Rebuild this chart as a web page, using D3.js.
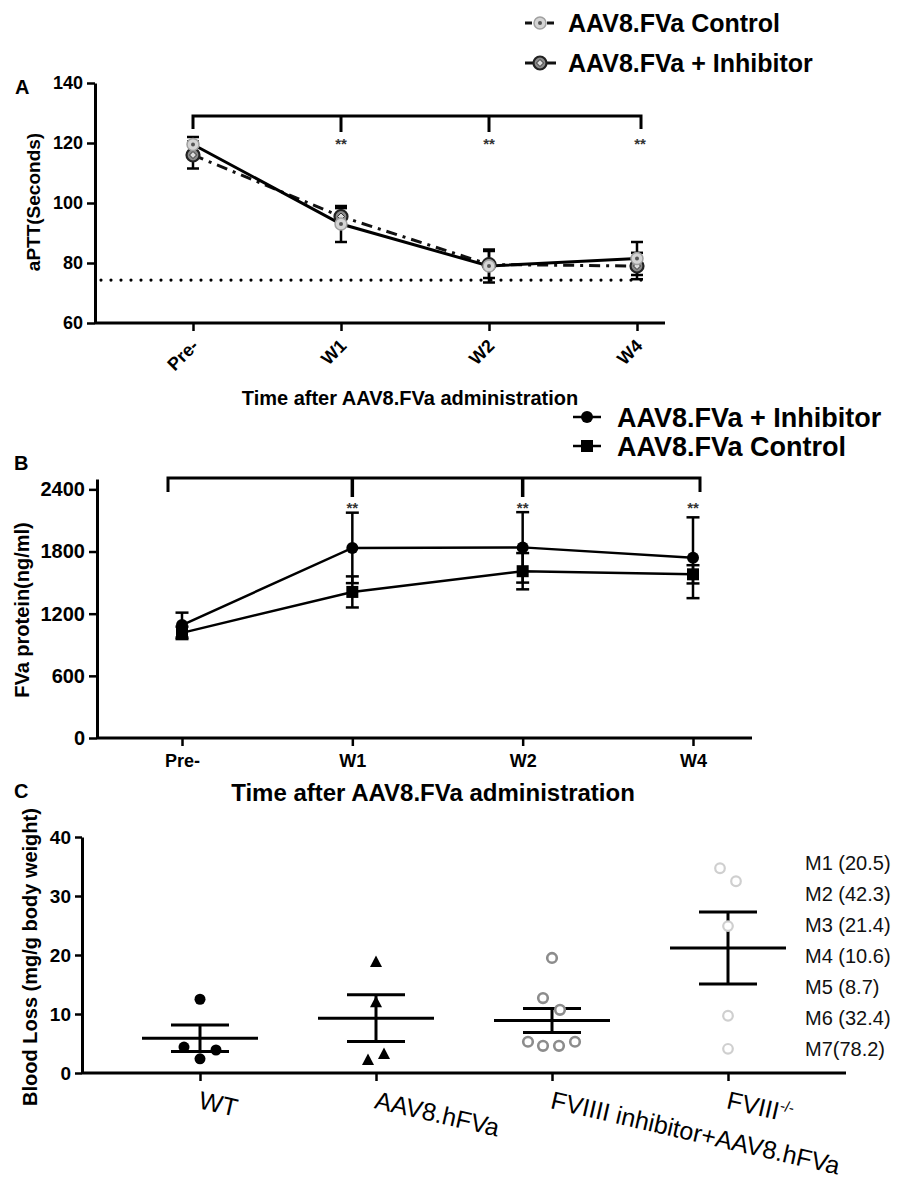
<!DOCTYPE html>
<html><head><meta charset="utf-8">
<script src="https://cdn.jsdelivr.net/npm/d3@7"></script>
<style>body{margin:0;background:#fff}</style>
</head><body><svg id="c" width="900" height="1178"></svg>
<script>
// ---------------- DATA ----------------
const timepoints = ["Pre-", "W1", "W2", "W4"];
const apttTicks = [60, 80, 100, 120, 140];
const apttControl = [119.5, 93, 79, 81.5];
const apttControlErr = [2.5, 6, 5.5, 5.5];
const apttInhibitor = [116, 95.5, 79.5, 79];
const apttInhibitorErr = [4.5, 2.8, 4.5, 4.4];
const apttNormal = 74.3;
const apttSig = ["", "**", "**", "**"];

const fvaTicks = [0, 600, 1200, 1800, 2400];
const fvaInhibitor = [1090, 1835, 1840, 1740];
const fvaInhibitorErr = [120, 340, 340, 390];
const fvaControl = [1015, 1410, 1610, 1580];
const fvaControlErr = [60, 150, 175, 88];
const fvaSig = ["", "**", "**", "**"];

const groups = ["WT", "AAV8.hFVa", "FVIIII inhibitor+AAV8.hFVa", "FVIII-/-"];
const bloodTicks = [0, 10, 20, 30, 40];
const bloodWT = [12.5, 4.4, 3.9, 2.4];
const bloodAAV = [18.8, 12.0, 2.2, 3.2];
const bloodInhib = [19.5, 12.7, 10.7, 5.3, 4.6, 4.6, 5.3];
const bloodFVIII = [34.7, 32.5, 24.9, 9.7, 4.1];
const bloodMean = [5.9, 9.3, 8.9, 21.2];
const bloodSEM = [2.25, 3.95, 2.05, 6.1];
const mouseLabels = ["M1 (20.5)", "M2 (42.3)", "M3 (21.4)", "M4 (10.6)", "M5 (8.7)", "M6 (32.4)", "M7(78.2)"];

// ---------------- LAYOUT ----------------
const F = '"Liberation Sans", Arial, Helvetica, sans-serif';
const jitter = [[0, -16, 16, 0], [0, 0, -8, 8], [0, -9, 8, -24, -9, 7, 23], [-8, 8, 0, 0, 0]];
const svg = d3.select("#c");
svg.append("rect").attr("width", 900).attr("height", 1178).attr("fill", "#fff");

function styleAxis(g, fs, bold = true) {
  g.selectAll(".domain").attr("stroke", "#000").attr("stroke-width", 3);
  g.selectAll(".tick line").attr("stroke", "#000").attr("stroke-width", 2.5);
  g.selectAll(".tick text").attr("fill", "#000").attr("font-size", fs)
    .attr("font-weight", bold ? "bold" : "normal").attr("font-family", F);
}
function txt(x, y, s, fs, opts = {}) {
  const t = svg.append("text").attr("x", x).attr("y", y).text(s)
    .attr("font-family", F).attr("font-size", fs)
    .attr("font-weight", opts.weight || "bold").attr("fill", opts.fill || "#000")
    .attr("text-anchor", opts.anchor || "start");
  if (opts.transform) t.attr("transform", opts.transform);
  return t;
}
function errBar(g, x, y0, y1, cap, sw) {
  g.append("line").attr("x1", x).attr("x2", x).attr("y1", y0).attr("y2", y1).attr("stroke", "#000").attr("stroke-width", sw);
  [y0, y1].forEach(y => g.append("line").attr("x1", x - cap).attr("x2", x + cap).attr("y1", y).attr("y2", y).attr("stroke", "#000").attr("stroke-width", sw));
}

// ================= PANEL A =================
const xA = d3.scalePoint().domain(timepoints).range([193, 637]);
const yA = d3.scaleLinear().domain([60, 140]).range([323, 83]);
txt(15, 94, "A", 20);
const gAy = svg.append("g").attr("transform", "translate(95,0)")
  .call(d3.axisLeft(yA).tickValues(apttTicks).tickSize(8).tickSizeOuter(0).tickPadding(4));
styleAxis(gAy, 18);
svg.append("line").attr("x1", 95).attr("x2", 665).attr("y1", yA(60)).attr("y2", yA(60)).attr("stroke", "#000").attr("stroke-width", 3);
const gAx = svg.append("g").attr("transform", `translate(0,${yA(60)})`)
  .call(d3.axisBottom(xA).tickSize(8).tickSizeOuter(0));
gAx.select(".domain").remove();
styleAxis(gAx, 18);
gAx.selectAll(".tick text").attr("text-anchor", "end").attr("x", 0).attr("y", 0).attr("dy", 0)
  .attr("transform", "translate(6,24) rotate(-45)");
txt(33, 202, "aPTT(Seconds)", 19, { anchor: "middle", transform: "rotate(-90,33,202)" }).attr("dy", "0.35em");
txt(410, 405, "Time after AAV8.FVa administration", 20, { anchor: "middle" });

// dotted normal line
svg.append("line").attr("x1", 101).attr("x2", 648).attr("y1", yA(apttNormal)).attr("y2", yA(apttNormal))
  .attr("stroke", "#000").attr("stroke-width", 3.2).attr("stroke-linecap", "round").attr("stroke-dasharray", "0,10");

// bracket
const brA = svg.append("g");
brA.append("path").attr("d", `M${xA("Pre-")},129V116H${xA("W4") + 4}V129`).attr("fill", "none").attr("stroke", "#000").attr("stroke-width", 3);
["W1", "W2"].forEach(t => brA.append("line").attr("x1", xA(t)).attr("x2", xA(t)).attr("y1", 116).attr("y2", 132).attr("stroke", "#000").attr("stroke-width", 3));
timepoints.forEach((t, i) => { if (apttSig[i]) txt(xA(t) + (i === 3 ? 3 : 0), 149, apttSig[i], 15, { anchor: "middle", fill: "#333" }); });

// error bars
const gA = svg.append("g");
timepoints.forEach((t, i) => {
  errBar(gA, xA(t), yA(apttControl[i] + apttControlErr[i]), yA(apttControl[i] - apttControlErr[i]), 6, 2.5);
  errBar(gA, xA(t), yA(apttInhibitor[i] + apttInhibitorErr[i]), yA(apttInhibitor[i] - apttInhibitorErr[i]), 6, 2.5);
});
const lineA = d3.line().x((d, i) => xA(timepoints[i])).y(d => yA(d));
gA.append("path").datum(apttInhibitor).attr("d", lineA).attr("fill", "none").attr("stroke", "#111").attr("stroke-width", 3).attr("stroke-dasharray", "11,6,3,6");
gA.append("path").datum(apttControl).attr("d", lineA).attr("fill", "none").attr("stroke", "#000").attr("stroke-width", 3);

function markInhib(g, x, y) {
  g.append("circle").attr("cx", x).attr("cy", y).attr("r", 6.5).attr("fill", "#8a8a8a").attr("stroke", "#222").attr("stroke-width", 2.2);
  g.append("path").attr("d", `M${x},${y - 3.5}L${x + 3.5},${y}L${x},${y + 3.5}L${x - 3.5},${y}Z`).attr("fill", "#ddd").attr("stroke", "#333").attr("stroke-width", 1);
}
function markCtrl(g, x, y) {
  g.append("circle").attr("cx", x).attr("cy", y).attr("r", 6).attr("fill", "#d4d4d4").attr("stroke", "#a0a0a0").attr("stroke-width", 1.5);
  g.append("circle").attr("cx", x).attr("cy", y).attr("r", 2).attr("fill", "#555");
}
timepoints.forEach((t, i) => { markInhib(gA, xA(t), yA(apttInhibitor[i])); markCtrl(gA, xA(t), yA(apttControl[i])); });

// legend A
const lgA = svg.append("g");
lgA.append("line").attr("x1", 525).attr("x2", 556).attr("y1", 23).attr("y2", 23).attr("stroke", "#111").attr("stroke-width", 3).attr("stroke-dasharray", "7,4");
markCtrl(lgA, 540, 23);
txt(568, 32, "AAV8.FVa Control", 25);
lgA.append("line").attr("x1", 525).attr("x2", 556).attr("y1", 63).attr("y2", 63).attr("stroke", "#111").attr("stroke-width", 3);
markInhib(lgA, 540, 63);
txt(568, 72, "AAV8.FVa + Inhibitor", 25);

// ================= PANEL B =================
const xB = d3.scalePoint().domain(timepoints).range([182, 693]);
const yB = d3.scaleLinear().domain([0, 2500]).range([738, 479]);
txt(14, 470, "B", 20);
const gBy = svg.append("g").attr("transform", "translate(97,0)")
  .call(d3.axisLeft(yB).tickValues(fvaTicks).tickFormat(d3.format("d")).tickSize(8).tickSizeOuter(0).tickPadding(4));
styleAxis(gBy, 20);
svg.append("line").attr("x1", 97).attr("x2", 752).attr("y1", yB(0)).attr("y2", yB(0)).attr("stroke", "#000").attr("stroke-width", 3);
const gBx = svg.append("g").attr("transform", `translate(0,${yB(0)})`)
  .call(d3.axisBottom(xB).tickSize(8).tickSizeOuter(0).tickPadding(8));
gBx.select(".domain").remove();
styleAxis(gBx, 18);
txt(22, 610, "FVa protein(ng/ml)", 20, { anchor: "middle", transform: "rotate(-90,22,610)" }).attr("dy", "0.35em");
txt(433, 801, "Time after AAV8.FVa administration", 24, { anchor: "middle" });

const brB = svg.append("g");
brB.append("path").attr("d", `M${xB("Pre-") - 14},492V478H${xB("W4") + 7}V492`).attr("fill", "none").attr("stroke", "#000").attr("stroke-width", 3);
["W1", "W2"].forEach(t => brB.append("line").attr("x1", xB(t)).attr("x2", xB(t)).attr("y1", 478).attr("y2", 497).attr("stroke", "#000").attr("stroke-width", 3.5));
timepoints.forEach((t, i) => { if (fvaSig[i]) txt(xB(t), 513, fvaSig[i], 15, { anchor: "middle", fill: "#333" }); });

const gB = svg.append("g");
timepoints.forEach((t, i) => {
  errBar(gB, xB(t), yB(fvaInhibitor[i] + fvaInhibitorErr[i]), yB(fvaInhibitor[i] - fvaInhibitorErr[i]), 6.5, 2.5);
  errBar(gB, xB(t), yB(fvaControl[i] + fvaControlErr[i]), yB(fvaControl[i] - fvaControlErr[i]), 6.5, 2.5);
});
const lineB = d3.line().x((d, i) => xB(timepoints[i])).y(d => yB(d));
gB.append("path").datum(fvaInhibitor).attr("d", lineB).attr("fill", "none").attr("stroke", "#000").attr("stroke-width", 2.5);
gB.append("path").datum(fvaControl).attr("d", lineB).attr("fill", "none").attr("stroke", "#000").attr("stroke-width", 2.5);
timepoints.forEach((t, i) => {
  gB.append("circle").attr("cx", xB(t)).attr("cy", yB(fvaInhibitor[i])).attr("r", 6).attr("fill", "#000");
  gB.append("rect").attr("x", xB(t) - 6).attr("y", yB(fvaControl[i]) - 6).attr("width", 12).attr("height", 12).attr("fill", "#000");
});

const lgB = svg.append("g");
lgB.append("line").attr("x1", 573).attr("x2", 601).attr("y1", 417).attr("y2", 417).attr("stroke", "#000").attr("stroke-width", 2.5);
lgB.append("circle").attr("cx", 587).attr("cy", 417).attr("r", 6).attr("fill", "#000");
txt(617, 427, "AAV8.FVa + Inhibitor", 27);
lgB.append("line").attr("x1", 573).attr("x2", 601).attr("y1", 446).attr("y2", 446).attr("stroke", "#000").attr("stroke-width", 2.5);
lgB.append("rect").attr("x", 581).attr("y", 440).attr("width", 12).attr("height", 12).attr("fill", "#000");
txt(617, 456, "AAV8.FVa Control", 27);

// ================= PANEL C =================
const xC = d3.scalePoint().domain(groups).range([200, 728]);
const yC = d3.scaleLinear().domain([0, 40]).range([1073, 837]);
txt(14, 798, "C", 20);
const gCy = svg.append("g").attr("transform", "translate(82,0)")
  .call(d3.axisLeft(yC).tickValues(bloodTicks).tickSize(7).tickSizeOuter(0).tickPadding(4));
styleAxis(gCy, 19);
svg.append("line").attr("x1", 82).attr("x2", 846).attr("y1", yC(0)).attr("y2", yC(0)).attr("stroke", "#000").attr("stroke-width", 3);
const gCx = svg.append("g").attr("transform", `translate(0,${yC(0)})`)
  .call(d3.axisBottom(xC).tickSize(8).tickSizeOuter(0));
gCx.select(".domain").remove();
styleAxis(gCx, 25, false);
gCx.selectAll(".tick text").text(null).attr("text-anchor", "start").attr("x", 0).attr("y", 0).attr("dy", 0)
  .attr("transform", "translate(-3,35) rotate(13)")
  .each(function (d) {
    const t = d3.select(this);
    if (d === "FVIII-/-") {
      t.append("tspan").text("FVIII");
      t.append("tspan").text("-/-").attr("font-size", 15).attr("dy", -10);
    } else t.text(d);
  });
txt(30, 957, "Blood Loss (mg/g body weight)", 20, { anchor: "middle", transform: "rotate(-90,30,957)" }).attr("dy", "0.35em");

const gC = svg.append("g");
groups.forEach((g, i) => {
  const x = xC(g), m = yC(bloodMean[i]), hi = yC(bloodMean[i] + bloodSEM[i]), lo = yC(bloodMean[i] - bloodSEM[i]);
  gC.append("line").attr("x1", x - 58).attr("x2", x + 58).attr("y1", m).attr("y2", m).attr("stroke", "#000").attr("stroke-width", 3);
  errBar(gC, x, hi, lo, 29, 3);
});
bloodWT.forEach((v, j) => gC.append("circle").attr("cx", xC(groups[0]) + jitter[0][j]).attr("cy", yC(v)).attr("r", 5.5).attr("fill", "#000"));
bloodAAV.forEach((v, j) => {
  const x = xC(groups[1]) + jitter[1][j], y = yC(v);
  gC.append("path").attr("d", `M${x},${y - 6.5}L${x + 6},${y + 5}L${x - 6},${y + 5}Z`).attr("fill", "#000");
});
bloodInhib.forEach((v, j) => gC.append("circle").attr("cx", xC(groups[2]) + jitter[2][j]).attr("cy", yC(v)).attr("r", 4.8).attr("fill", "#fff").attr("stroke", "#8c8c8c").attr("stroke-width", 2.6));
bloodFVIII.forEach((v, j) => gC.append("circle").attr("cx", xC(groups[3]) + jitter[3][j]).attr("cy", yC(v)).attr("r", 4.8).attr("fill", "#fff").attr("stroke", "#cfcfcf").attr("stroke-width", 2.2));

mouseLabels.forEach((s, i) => txt(805, 870 + i * 31, s, 20, { weight: "normal", fill: "#111" }));
</script></body></html>
